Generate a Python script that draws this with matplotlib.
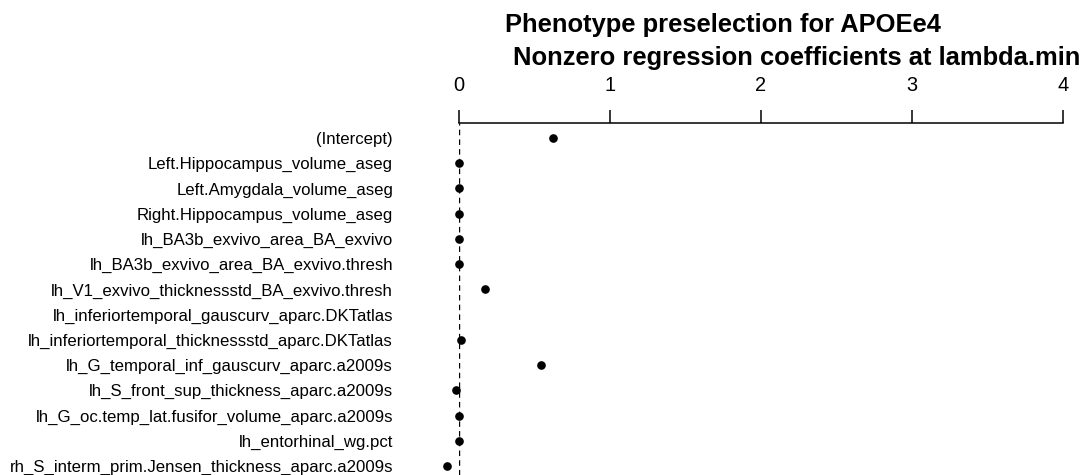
import numpy as np
import matplotlib
matplotlib.use("Agg")
import matplotlib.pyplot as plt

plt.rcParams['font.family'] = ['Liberation Sans', 'DejaVu Sans']

labels = [
    "(Intercept)",
    "Left.Hippocampus_volume_aseg",
    "Left.Amygdala_volume_aseg",
    "Right.Hippocampus_volume_aseg",
    "lh_BA3b_exvivo_area_BA_exvivo",
    "lh_BA3b_exvivo_area_BA_exvivo.thresh",
    "lh_V1_exvivo_thicknessstd_BA_exvivo.thresh",
    "lh_inferiortemporal_gauscurv_aparc.DKTatlas",
    "lh_inferiortemporal_thicknessstd_aparc.DKTatlas",
    "lh_G_temporal_inf_gauscurv_aparc.a2009s",
    "lh_S_front_sup_thickness_aparc.a2009s",
    "lh_G_oc.temp_lat.fusifor_volume_aparc.a2009s",
    "lh_entorhinal_wg.pct",
    "rh_S_interm_prim.Jensen_thickness_aparc.a2009s",
]
coefs = [0.62, 0.0, 0.0, 0.0, 0.0, 0.0, 0.175, np.nan, 0.01, 0.545, -0.02, 0.0, 0.0, -0.08]
xticks = [0, 1, 2, 3, 4]

W, H = 1084, 475
fig = plt.figure(figsize=(W / 100, H / 100), dpi=100)
x0, x4 = 459, 1063
ytop = 123
ax = fig.add_axes([x0 / W, 0, (x4 - x0) / W, (H - ytop) / H])
row0, step = 138, 25.23
ax.set_xlim(0, 4)
ax.set_ylim((H - row0) / step, (ytop - row0) / step)

pos = np.arange(len(labels))
ax.axvline(0, color='black', lw=1, ls=(0, (4, 3)))
ax.plot(coefs, pos, 'o', color='black', ms=5.2, clip_on=False, zorder=3)

for s in ['bottom', 'left', 'right']:
    ax.spines[s].set_visible(False)
ax.spines['top'].set_bounds(0, 4)
ax.spines['top'].set_linewidth(1.1)
ax.xaxis.tick_top()
ax.set_xticks(xticks)
ax.set_xticklabels([str(t) for t in xticks], fontsize=14.4)
ax.tick_params(axis='x', direction='out', length=9.4, width=1.1, pad=11)
ax.set_yticks(pos)
ax.set_yticklabels(labels, fontsize=12.1)
ax.tick_params(axis='y', length=0, pad=47.5)

fig.text(505 / W, 1 - 31.7 / H, "Phenotype preselection for APOEe4", fontsize=18.4,
         fontweight='bold', ha='left', va='baseline')
fig.text(513 / W, 1 - 65 / H, "Nonzero regression coefficients at lambda.min", fontsize=18.4,
         fontweight='bold', ha='left', va='baseline')

fig.savefig("out.png", dpi=100)
